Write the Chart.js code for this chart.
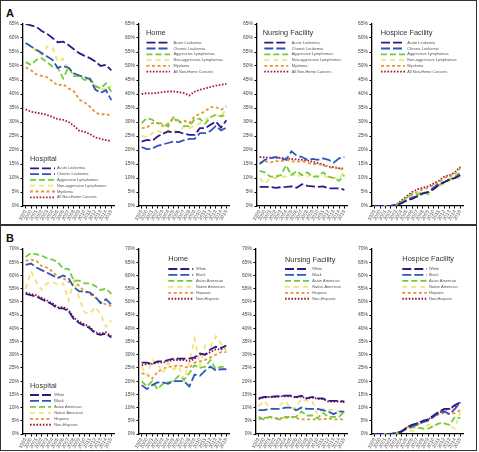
<!DOCTYPE html>
<html><head><meta charset="utf-8">
<script src="https://cdn.jsdelivr.net/npm/chart.js@4.4.1/dist/chart.umd.min.js"></script>
<style>
html,body{margin:0;padding:0;background:#fff;}
body{width:479px;height:452px;position:relative;overflow:hidden;font-family:"Liberation Sans",Arial,sans-serif;}
.frame{position:absolute;border:1px solid #333;box-sizing:border-box;}
.tag{position:absolute;font-weight:bold;font-size:11px;line-height:11px;color:#111;}
canvas{position:absolute;}
</style></head><body>
<div class="frame" style="left:0;top:0;width:477px;height:225px"></div>
<div class="frame" style="left:0;top:225px;width:477px;height:226px"></div>
<div class="tag" style="left:6px;top:8px">A</div>
<div class="tag" style="left:6px;top:233px">B</div>
<script>
// ---------- data ----------
const years = ["1999","2000","2001","2002","2003","2004","2005","2006","2007","2008","2009","2010","2011","2012","2013","2014","2015"];
const cancerNames = ["Acute Leukemia","Chronic Leukemia","Aggressive Lymphomas","Non-aggressive Lymphomas","Myeloma","All Non-Heme Cancers"];
const raceNames = ["White","Black","Asian American","Native American","Hispanic","Non-Hispanic"];
const panelTitles = ["Hospital","Home","Nursing Facility","Hospice Facility"];
const yTicksA = [0,5,10,15,20,25,30,35,40,45,50,55,60,65];
const yTicksB = [0,5,10,15,20,25,30,35,40,45,50,55,60,65,70];

// Panel A: by cancer type (acute, chronic, aggressive, non-aggressive, myeloma, all non-heme)
const aHospital = [
  [65,64.5,64,62.5,61.5,60,58.5,58.7,57.5,56,54.6,53.6,52.8,51.6,50,50.4,48.4],
  [58.2,57,55.8,54.6,53.4,52.2,49.3,50,49.4,47.4,46.6,46,45.4,41.6,40.4,41.4,37.8],
  [51.4,50.4,52.2,52.8,51.4,49.8,49.3,45.6,49.6,46.4,46.4,45,45.6,42.8,42,43.8,40.8],
  [58,57.6,55,54,57,56.6,51.6,52.6,48.6,47,46.6,45.6,45,43,41.6,42,42.8],
  [49.5,48.5,47,46.5,46,44.5,43,43.5,42,41,38,37,35.5,33.5,32.5,33,32],
  [34.5,33.7,33.3,33,32.5,31.8,31,30.8,30,28.7,26.9,26.5,25.7,24.5,24,23.5,23.2]
];
const aHome = [
  [23,23.6,23.3,24.8,25.8,26.6,26.3,26.5,25.8,25.4,25.4,27.8,27.8,29,30.2,28,30.6],
  [21,20.3,20.5,21.5,22,22.5,23,22.8,23.5,24,24,26,26,26.8,28.5,27,28],
  [29.6,31.4,30.8,29.6,29.4,28.4,31.7,30.5,28.6,28.4,31,31.2,29.4,31.7,32.6,32,32.6],
  [25,24.6,26,27,26,27,27.2,26.3,28.4,27.8,28.6,29.6,31,32,32.4,32.4,34.4],
  [27.8,28,29.6,29.6,28.6,29.4,31.4,29.8,30.5,29.6,32,32.9,33.8,35.3,35.3,34.4,35.6],
  [40,40.3,40.2,40.4,40.7,40.9,40.9,40.7,40.3,39.5,40.8,41.5,42,42.5,43,43.3,43.6]
];
const aNursing = [
  [6.8,6.8,6.8,6.5,6.7,6.8,7,6.5,7.8,7.2,7,6.8,7,6.3,6.3,6.3,5.8],
  [15,16.5,17,17.5,17,16.5,19.5,18,17.5,16.5,16.8,16.5,17,16.5,15.5,17,17.5],
  [12.5,12,10.5,10.5,11,14.5,11,12.5,11,12,10.5,10.5,12,10.5,10,9,11],
  [10,8,10,10,10.5,10.5,11.5,10.5,11,10.5,11.5,10.5,11,10,10,10,12],
  [15.5,16,15.5,16,16,16.5,16,15.8,16,15.5,15,15,14.5,14,13.5,13.5,13],
  [17.5,17.3,17.3,17.2,17.2,17,16.8,16.6,16.5,16.3,15.8,15.3,14.8,14,13.9,13.5,13.3]
];
const aHospice = [
  [0,0,0,0,0.3,1,2,2.5,3.5,4.5,5,6,7.5,8.5,9.5,10,11],
  [0,0,0,0,0.3,1,2,3,3.5,4.5,5,6.5,8,8.5,9.5,10,11.5],
  [0,0,0,0,0.5,1.5,3,4.5,4,5,4.5,6.5,7.5,8.5,9.5,10.5,12],
  [0,0,0,0,0.5,1,2.5,3.5,4.5,5,4,6,7,8,9,10,10],
  [0,0,0,0,0.5,1.5,3,4,5,6,6.5,7.5,8.5,10,10.5,11.5,13.5],
  [0,0,0,0,0.5,2,3.5,5,6,6.5,7,8,9,10.5,11,12,14]
];
// Panel B: by race / ethnicity (white, black, asian, native, hispanic, non-hispanic)
const bHospital = [
  [53,52.5,52,51,50,49,47.5,47.5,46.5,43.5,42,41,40,38,37.5,38,36.5],
  [64,64.5,63,62,61,60,59,60,59,55.5,54,54,53.5,52,49.5,51,49],
  [67,68.5,68,67.5,66.5,66,65,62.5,62.5,58,58,57,57,56,54.5,55,53],
  [55,61.5,57.5,54.5,57,57.5,56.5,57,50.5,58,51.5,46,45.5,48,45.5,40.5,43],
  [65.5,66,65.5,63.5,63,61.5,59.5,59,57.5,58,56,54,53,51.5,50,49,48.5],
  [53.5,53,52.5,51.5,50.5,49.5,48,48,47,44,42.5,41.5,40.5,38.5,38,38.5,37]
];
const bHome = [
  [27,27,26.5,27.5,27.5,28,28.5,28.5,28.5,28.5,29,30.5,30,32,33,32.5,33.5],
  [18.5,17,18.5,19.5,19.5,19,20,20,20,18,22.5,22,24,25.5,24,24.5,24.5],
  [20,18,20,17,19,19.5,20,22,20.5,23,26,25,25.5,28,24.5,25.5,25],
  [25.5,22,28,26.5,23,27,24.5,25.5,20.5,27,36,26,33.5,33,37,34,31.5],
  [23,22.5,21,23.5,24.5,25.5,25.5,26,25.5,25,27,27.5,28,29,30,31,31],
  [26,26.5,26.5,27,27,27.5,28,28,28,27.5,28.5,30,30,31,32,32,32.5]
];
const bNursing = [
  [13.5,14,14,14.2,14.3,14.5,14.5,14,14.5,13.5,14,13.5,13.5,12.5,12.5,12.5,12.3],
  [9,9,9.5,9.5,9.5,10,10,9,10,9.5,9.5,9.5,9,8.5,7.5,8.5,8.5],
  [6.5,5.5,6.5,6,5.5,6.5,6.5,6.5,8.5,7,7,6,8,6.5,6.5,6.5,8.5],
  [10.5,12.5,10,9.5,11,12.5,9.5,10,13.5,12.5,12.5,7.5,9.5,9,9,8.5,9.5],
  [5.5,6,6.5,6,6,6,6.5,6,5.5,5.5,5.5,5.5,5.5,6,5.5,5.5,5.5],
  [13.2,13.8,14,14,14.2,14.2,14.3,13.8,14.2,13.3,13.8,13.3,13.2,12.3,12.3,12.3,12]
];
const bHospice = [
  [0,0,0,0,0.3,1,2.5,3.5,4,5,5.5,7,8.5,9.5,9.5,11,12],
  [0,0,0,0,0.2,0.8,2,3,3.5,4.5,5,6.5,8,8.5,7.5,9.5,12],
  [0,0,0,0,0.3,1,2,2.5,2.5,2,2,3,4,4,3.5,6.5,6],
  [0,0,0,0,0.3,1.5,2,1,2,2.5,3.5,3,4,4,3,2,8.5],
  [0,0,0,0,0.3,1,2.5,3,3.5,4.5,5.5,6.5,7.5,8,7.5,8,9],
  [0,0,0,0,0.3,1,2.5,3.5,4,5,5.5,7,8,9,9.5,10.5,11.5]
];

// ---------- styles ----------
const seriesColors = ["#2b1b86","#2f55b8","#6fce35","#f1e27a","#e3953a","#a3193c"];
const seriesDash = [[9,3],[9,3],[6,3],[5,4],[3,2.5],[1.6,1.6]];

// ---------- layout ----------
const panels = [
  {data:aHospital, names:cancerNames, t:0, ticks:yTicksA, x0:23, x1:114, y0:24, y1:206, leg:{tx:7,ty:134.5,iy:144.3,step:5.8,sx:7,sw:25,gap:2}},
  {data:aHome, names:cancerNames, t:1, ticks:yTicksA, x0:139, x1:229, y0:24, y1:206, leg:{tx:7,ty:9.3,iy:18.7,step:5.8,sx:7.5,sw:23.5,gap:3.5}},
  {data:aNursing, names:cancerNames, t:2, ticks:yTicksA, x0:257, x1:347, y0:24, y1:206, leg:{tx:5.7,ty:9.3,iy:18.7,step:5.8,sx:7.3,sw:24,gap:3.4}},
  {data:aHospice, names:cancerNames, t:3, ticks:yTicksA, x0:372, x1:463, y0:24, y1:206, leg:{tx:8.7,ty:9.3,iy:18.7,step:5.8,sx:9,sw:24,gap:2.3}},
  {data:bHospital, names:raceNames, t:0, ticks:yTicksB, x0:23, x1:114, y0:249, y1:434, leg:{tx:7,ty:136.5,iy:146,step:5.95,sx:7,sw:21,gap:3.3}},
  {data:bHome, names:raceNames, t:1, ticks:yTicksB, x0:139, x1:229, y0:249, y1:434, leg:{tx:29.3,ty:10,iy:20,step:5.95,sx:29.3,sw:25,gap:2.7}},
  {data:bNursing, names:raceNames, t:2, ticks:yTicksB, x0:256, x1:347, y0:249, y1:434, leg:{tx:29,ty:10.5,iy:20,step:5.95,sx:29,sw:24,gap:3.3}},
  {data:bHospice, names:raceNames, t:3, ticks:yTicksB, x0:372, x1:463, y0:249, y1:434, leg:{tx:30.3,ty:10,iy:20,step:5.95,sx:30.3,sw:24.4,gap:2.3}}
];

const FONT = '"Liberation Sans", Arial, sans-serif';
const insideLegend = {
  id: 'insideLegend',
  afterDatasetsDraw(chart, args, o) {
    const ctx = chart.ctx, ca = chart.chartArea;
    ctx.save();
    ctx.textBaseline = 'middle';
    ctx.textAlign = 'left';
    ctx.fillStyle = '#333';
    ctx.font = '7.4px ' + FONT;
    ctx.fillText(o.title, ca.left + o.tx, ca.top + o.ty);
    chart.data.datasets.forEach((ds, i) => {
      const y = ca.top + o.iy + i * o.step;
      ctx.strokeStyle = ds.borderColor;
      ctx.lineWidth = ds.borderWidth;
      ctx.setLineDash(ds.borderDash || []);
      ctx.beginPath();
      ctx.moveTo(ca.left + o.sx, y);
      ctx.lineTo(ca.left + o.sx + o.sw, y);
      ctx.stroke();
      ctx.setLineDash([]);
      ctx.fillStyle = '#555';
      ctx.font = '3.9px ' + FONT;
      ctx.fillText(ds.label, ca.left + o.sx + o.sw + o.gap, y);
    });
    ctx.restore();
  }
};

const YW = 22, PT = 6, XH = 18, PR = 4;
panels.forEach(p => {
  const cv = document.createElement('canvas');
  const w = (p.x1 - p.x0) + YW + PR;
  const h = (p.y1 - p.y0) + PT + XH;
  cv.width = w; cv.height = h;
  cv.style.left = (p.x0 - YW) + 'px';
  cv.style.top = (p.y0 - PT) + 'px';
  cv.style.width = w + 'px'; cv.style.height = h + 'px';
  document.body.appendChild(cv);
  const maxV = p.ticks[p.ticks.length - 1];
  new Chart(cv.getContext('2d'), {
    type: 'line',
    data: {
      labels: years,
      datasets: p.data.map((vals, i) => ({
        label: p.names[i],
        data: vals,
        borderColor: seriesColors[i],
        backgroundColor: seriesColors[i],
        borderWidth: 1.8,
        borderDash: seriesDash[i],
        pointRadius: 0,
        tension: 0,
        fill: false
      }))
    },
    options: {
      responsive: false,
      animation: false,
      devicePixelRatio: 1,
      layout: {padding: {top: PT, right: PR, left: 0, bottom: 0}},
      plugins: {
        legend: {display: false},
        tooltip: {enabled: false},
        insideLegend: Object.assign({title: panelTitles[p.t]}, p.leg)
      },
      scales: {
        x: {
          type: 'category',
          offset: true,
          afterFit: s => { s.height = XH; },
          grid: {display: true, drawOnChartArea: false, drawTicks: true, tickLength: 2.5, color: '#000', offset: false},
          border: {display: true, color: '#000', width: 1.3},
          ticks: {autoSkip: false, maxRotation: 60, minRotation: 60, padding: 0.5, color: '#555', font: {size: 5, family: FONT}}
        },
        y: {
          min: 0, max: maxV,
          afterFit: s => { s.width = YW; },
          afterBuildTicks: s => { s.ticks = p.ticks.map(v => ({value: v})); },
          grid: {display: true, drawOnChartArea: false, drawTicks: true, tickLength: 2.5, color: '#000'},
          border: {display: true, color: '#000', width: 1.3},
          ticks: {padding: 1.5, color: '#444', font: {size: 5, family: FONT}, callback: v => v + '%'}
        }
      }
    },
    plugins: [insideLegend]
  });
});
</script>
</body></html>
